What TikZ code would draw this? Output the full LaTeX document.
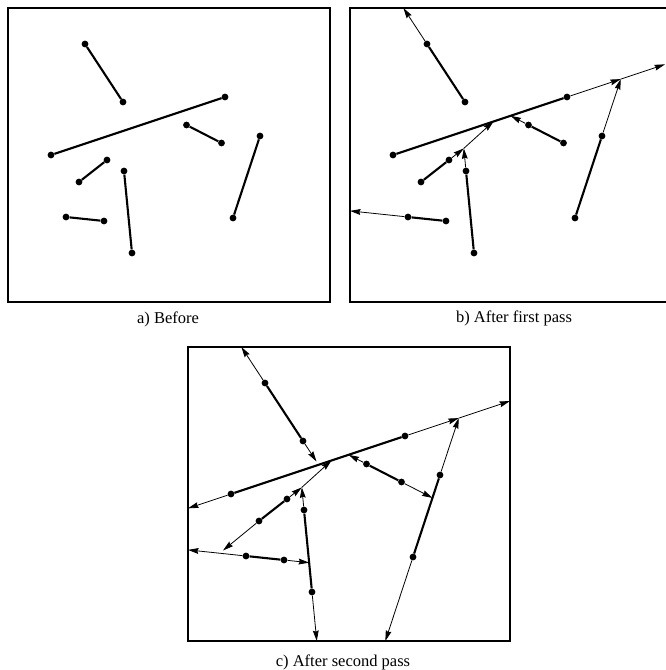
\documentclass[tikz,border=0pt]{standalone}
\usepackage{fontspec}
\setmainfont{Liberation Serif}
\usetikzlibrary{arrows.meta}
\newcommand\mkpts[1]{%
  \node[dot] (#1T1) at (85,44) {};   \node[dot] (#1T2) at (123,102) {};
  \node[dot] (#1L1) at (51,155) {};  \node[dot] (#1L2) at (225,97) {};
  \node[dot] (#1S1) at (186.5,125) {}; \node[dot] (#1S2) at (221.5,143) {};
  \node[dot] (#1D1) at (107,160) {}; \node[dot] (#1D2) at (79,182) {};
  \node[dot] (#1V1) at (124,171) {}; \node[dot] (#1V2) at (132,253) {};
  \node[dot] (#1H1) at (66,217) {};  \node[dot] (#1H2) at (104,221) {};
  \node[dot] (#1R1) at (260,136) {}; \node[dot] (#1R2) at (233,218) {};
  \draw[seg] (#1T1) -- (#1T2);
  \draw[seg] (#1L1) -- (#1L2);
  \draw[seg] (#1S1) -- (#1S2);
  \draw[seg] (#1D1) -- (#1D2);
  \draw[seg] (#1V1) -- (#1V2);
  \draw[seg] (#1H1) -- (#1H2);
  \draw[seg] (#1R1) -- (#1R2);
  \coordinate (#1NW) at (8,8);   \coordinate (#1NE) at (330,8);
  \coordinate (#1SW) at (8,302); \coordinate (#1SE) at (330,302);
  \coordinate (#1M) at (intersection of #1L1--#1L2 and #1R1--#1R2);
  \coordinate (#1P) at (intersection of #1D1--#1D2 and #1V1--#1V2);
  \coordinate (#1Q) at (151.5,121.5);
}
\begin{document}
\begin{tikzpicture}[x=1pt,y=-1pt,
  frame/.style={line width=2pt},
  seg/.style={line width=2.1pt},
  ext/.style={line width=0.8pt,-{Stealth[length=10.5pt,width=5.8pt,inset=1.2pt]}},
  dot/.style={circle,fill=black,draw=none,inner sep=0pt,minimum size=6.8pt},
  captext/.style={font=\fontsize{16.5}{20}\selectfont, anchor=base}]
\useasboundingbox (0,0) rectangle (665,670);

% ---------- panel a ----------
\begin{scope}
  \draw[frame] (8,8) rectangle (330,302);
  \mkpts{a}
\end{scope}
\node[captext] (capa) at (168,323) {a) Before};

% ---------- panel b ----------
\begin{scope}[shift={(342,0)}]
  \draw[frame] (8,8) rectangle (328,302);
  \mkpts{b}
  \coordinate (bE1) at (323,0); \coordinate (bE2) at (323,300);
  \draw[ext] (bT1) -- (intersection of bT1--bT2 and bNW--bNE);
  \draw[ext] (bL2) -- (bM);
  \draw[ext] (bM) -- (intersection of bL1--bL2 and bE1--bE2);
  \draw[ext] (bR1) -- (bM);
  \draw[ext] (bS1) -- (intersection of bS1--bS2 and bL1--bL2);
  \draw[ext] (bD1) -- (bP);
  \draw[ext] (bV1) -- (bP);
  \draw[ext] (bP) -- (bQ);
  \draw[ext] (bH1) -- (intersection of bH1--bH2 and bNW--bSW);
\end{scope}
\node[captext] (capb) at (514,322) {b) After first pass};

% ---------- panel c ----------
\begin{scope}[shift={(180,339)}]
  \draw[frame] (8,8) rectangle (330,302);
  \mkpts{c}
  \coordinate (cDH) at (43,211.5);
  \coordinate (cTL) at (136.5,122.5);
  \draw[ext] (cT1) -- (intersection of cT1--cT2 and cNW--cNE);
  \draw[ext] (cT2) -- (cTL);
  \draw[ext] (cL2) -- (cM);
  \draw[ext] (cM) -- (intersection of cL1--cL2 and cNE--cSE);
  \draw[ext] (cL1) -- (intersection of cL1--cL2 and cNW--cSW);
  \draw[ext] (cR1) -- (cM);
  \draw[ext] (cR2) -- (intersection of cR1--cR2 and cSW--cSE);
  \draw[ext] (cS1) -- (intersection of cS1--cS2 and cL1--cL2);
  \draw[ext] (cS2) -- (intersection of cS1--cS2 and cR1--cR2);
  \draw[ext] (cD1) -- (cP);
  \draw[ext] (cV1) -- (cP);
  \draw[ext] (cP) -- (cQ);
  \draw[ext] (cD2) -- (cDH);
  \draw[ext] (cV2) -- (intersection of cV1--cV2 and cSW--cSE);
  \draw[ext] (cH1) -- (intersection of cH1--cH2 and cNW--cSW);
  \draw[ext] (cH2) -- (intersection of cH1--cH2 and cV1--cV2);
\end{scope}
\node[captext] (capc) at (343,666) {c) After second pass};
\end{tikzpicture}
\end{document}
